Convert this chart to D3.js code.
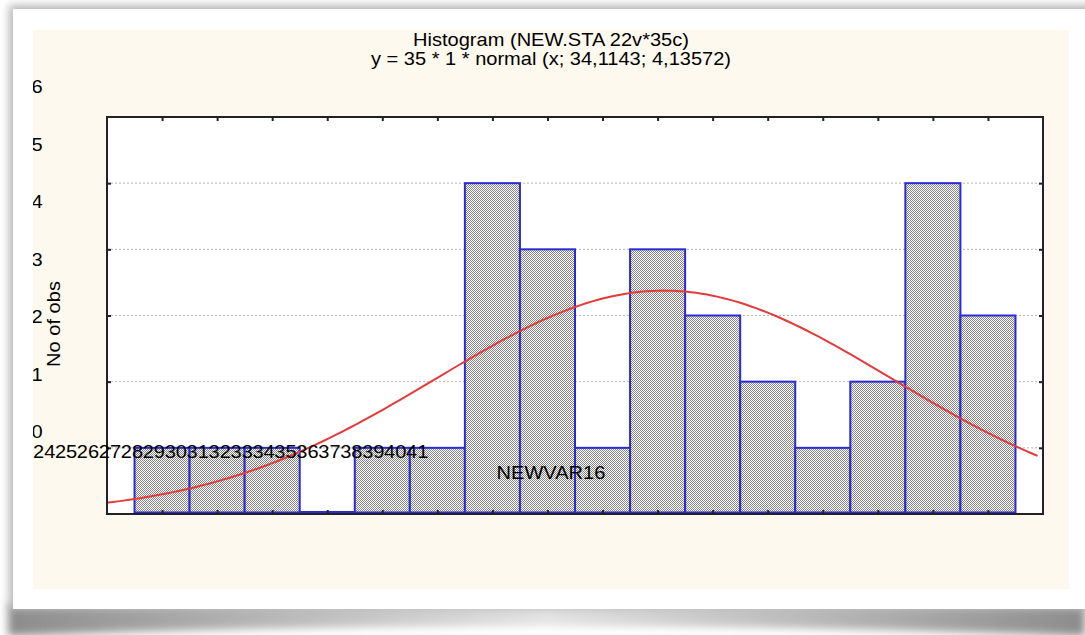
<!DOCTYPE html>
<html>
<head>
<meta charset="utf-8">
<script src="https://cdn.jsdelivr.net/npm/d3@7"></script>
<style>
  body { margin: 0; background: #fff; }
  svg { display: block; font-family: "Liberation Sans", Arial, sans-serif; }
</style>
</head>
<body>
<svg id="chart" width="1085" height="635"></svg>
<script>
// histogram data (NEWVAR16, 35 cases)
var binCenters = [25, 26, 27, 28, 29, 30, 31, 32, 33, 34, 35, 36, 37, 38, 39, 40];
var counts = [1, 1, 1, 0, 1, 1, 5, 4, 1, 4, 3, 2, 1, 2, 5, 3];
var yTicks = [0, 1, 2, 3, 4, 5, 6];
var xTickLabels = [24, 25, 26, 27, 28, 29, 30, 31, 32, 33, 34, 35, 36, 37, 38, 39, 40, 41];
// fitted normal from the title
var fitN = 35, fitBin = 1, fitMean = 34.1143, fitSd = 4.13572;
var titleLines = ["Histogram (NEW.STA 22v*35c)", "y = 35 * 1 * normal (x; 34,1143; 4,13572)"];

var svg = d3.select('#chart');
var defs = svg.append('defs');

// stretch text a bit wider like the original bitmap font
function stretch(sel, k) {
  sel.each(function() {
    var w = this.getComputedTextLength();
    d3.select(this).attr('textLength', w * k).attr('lengthAdjust', 'spacingAndGlyphs');
  });
}

//filters for the page card shadows
defs.append('filter').attr('id', 'blur4').attr('x', '-10%').attr('y', '-50%').attr('width', '120%').attr('height', '200%')
  .append('feGaussianBlur').attr('stdDeviation', 4);
defs.append('filter').attr('id', 'blur3').attr('x', '-10%').attr('y', '-100%').attr('width', '120%').attr('height', '300%')
  .append('feGaussianBlur').attr('stdDeviation', 4);
var sg = defs.append('linearGradient').attr('id', 'curl').attr('x1', '0%').attr('x2', '100%');
sg.append('stop').attr('offset', '0%').attr('stop-color', '#8c8c8c');
sg.append('stop').attr('offset', '50%').attr('stop-color', '#e4e4e4');
sg.append('stop').attr('offset', '100%').attr('stop-color', '#8c8c8c');

// bar hatch pattern
var pat = defs.append('pattern').attr('id', 'hatch').attr('patternUnits', 'userSpaceOnUse')
  .attr('width', 2).attr('height', 2);
pat.append('rect').attr('width', 2).attr('height', 2).attr('fill', '#fff');
pat.append('rect').attr('width', 1).attr('height', 1).attr('fill', '#858585');
pat.append('rect').attr('x', 1).attr('y', 1).attr('width', 1).attr('height', 1).attr('fill', '#858585');

// page card
svg.append('path')
  .attr('d', 'M8,604 L1085,604 L1085,636 Q546,616 8,636 Z')
  .attr('fill', 'url(#curl)')
  .attr('filter', 'url(#blur3)');
svg.append('rect').attr('x', 9).attr('y', 5).attr('width', 1090).attr('height', 604)
  .attr('fill', '#b8b8b8').attr('filter', 'url(#blur4)');
svg.append('rect').attr('x', 13).attr('y', 9).attr('width', 1080).attr('height', 600).attr('fill', '#fff');

// cream chart panel
var panel = {x: 33, y: 30, w: 1036, h: 559};
svg.append('rect').attr('x', panel.x).attr('y', panel.y).attr('width', panel.w).attr('height', panel.h)
  .attr('fill', '#fdf9ee');
defs.append('clipPath').attr('id', 'panelClip').append('rect')
  .attr('x', panel.x).attr('y', panel.y).attr('width', panel.w).attr('height', panel.h);
var cx = panel.x + panel.w / 2;

var g = svg.append('g').attr('clip-path', 'url(#panelClip)');

// plot scales
var x = d3.scaleLinear().domain([24, 41]).range([107, 1043]);
var y = d3.scaleLinear().domain([0, 6]).range([514, 117]);

g.append('rect').attr('x', x(24)).attr('y', y(6)).attr('width', x(41) - x(24)).attr('height', y(0) - y(6))
  .attr('fill', '#fff');

// gridlines
g.selectAll('.grid').data(yTicks.slice(1, 6)).enter().append('line')
  .attr('class', 'grid')
  .attr('x1', x(24)).attr('x2', x(41))
  .attr('y1', function(d) { return y(d); }).attr('y2', function(d) { return y(d); })
  .style('stroke', '#b5b5b5').style('stroke-width', 1).style('stroke-dasharray', '2,2');

// bars (bottom edge kept just above the frame so empty bins still show a line)
var barBase = y(0) - 1.5;
g.selectAll('.bar').data(binCenters).enter().append('rect')
  .attr('class', 'bar')
  .attr('x', function(d) { return x(d - fitBin / 2); })
  .attr('y', function(d, i) { return Math.min(y(counts[i]), barBase - 0.5); })
  .attr('width', function(d) { return x(d + fitBin / 2) - x(d - fitBin / 2); })
  .attr('height', function(d, i) { return Math.max(barBase - y(counts[i]), 0.5); })
  .style('fill', 'url(#hatch)')
  .style('stroke', '#2a2ad8').style('stroke-width', 2);

// normal fit curve
var curveX = d3.range(24, 40.9, 0.1).concat([40.9]);
var line = d3.line()
  .x(function(d) { return x(d); })
  .y(function(d) {
    var z = (d - fitMean) / fitSd;
    return y(fitN * fitBin * Math.exp(-0.5 * z * z) / (fitSd * Math.sqrt(2 * Math.PI)));
  });
g.append('path').datum(curveX).attr('d', line)
  .style('fill', 'none').style('stroke', '#e53a3a').style('stroke-width', 2);

// frame and ticks
g.append('rect').attr('x', x(24)).attr('y', y(6)).attr('width', x(41) - x(24)).attr('height', y(0) - y(6))
  .style('fill', 'none').style('stroke', '#222').style('stroke-width', 2);
function tickStyle(a) {
  a.select('.domain').remove();
  a.selectAll('line').style('stroke', '#222').style('stroke-width', 2);
}
g.append('g').attr('transform', 'translate(0,' + y(6) + ')')
  .call(d3.axisBottom(x).tickValues(binCenters).tickSize(4).tickFormat(''))
  .call(tickStyle);
g.append('g').attr('transform', 'translate(0,' + y(0) + ')')
  .call(d3.axisTop(x).tickValues(binCenters).tickSize(4).tickFormat(''))
  .call(tickStyle);
g.append('g').attr('transform', 'translate(' + x(41) + ',0)')
  .call(d3.axisLeft(y).tickValues(yTicks.slice(1, 6)).tickSize(4).tickFormat(''))
  .call(tickStyle);
g.append('g').attr('transform', 'translate(' + x(24) + ',0)')
  .call(d3.axisRight(y).tickValues(yTicks.slice(1, 6)).tickSize(4).tickFormat(''))
  .call(tickStyle);

// labels (placed the way the original export drew them)
var yLab = d3.scaleLinear().domain([0, 6]).range([438, 93]);
var xLab = d3.scaleLinear().domain([24, 42]).range([33, 428]);
var fs = '19px', k = 1.055;

g.selectAll('.ylab').data(yTicks).enter().append('text')
  .attr('class', 'ylab')
  .attr('x', 42.6).attr('y', function(d) { return yLab(d); })
  .attr('text-anchor', 'end')
  .style('font-size', fs).style('fill', '#000')
  .text(function(d) { return d; })
  .call(stretch, k);

g.selectAll('.xlab').data(xTickLabels).enter().append('text')
  .attr('class', 'xlab')
  .attr('x', function(d) { return xLab(d); }).attr('y', 458)
  .style('font-size', fs).style('fill', '#000')
  .text(function(d) { return d; })
  .call(stretch, k);

g.selectAll('.title').data(titleLines).enter().append('text')
  .attr('class', 'title')
  .attr('x', cx).attr('y', function(d, i) { return 45.5 + i * 19.5; })
  .attr('text-anchor', 'middle')
  .style('font-size', fs).style('fill', '#000')
  .text(function(d) { return d; })
  .call(stretch, k);

g.append('text')
  .attr('x', cx).attr('y', 479)
  .attr('text-anchor', 'middle')
  .style('font-size', fs).style('fill', '#000')
  .text('NEWVAR16')
  .call(stretch, k);

g.append('text')
  .attr('transform', 'translate(60,324) rotate(-90)')
  .attr('text-anchor', 'middle')
  .style('font-size', fs).style('fill', '#000')
  .text('No of obs')
  .call(stretch, k);
</script>
</body>
</html>
